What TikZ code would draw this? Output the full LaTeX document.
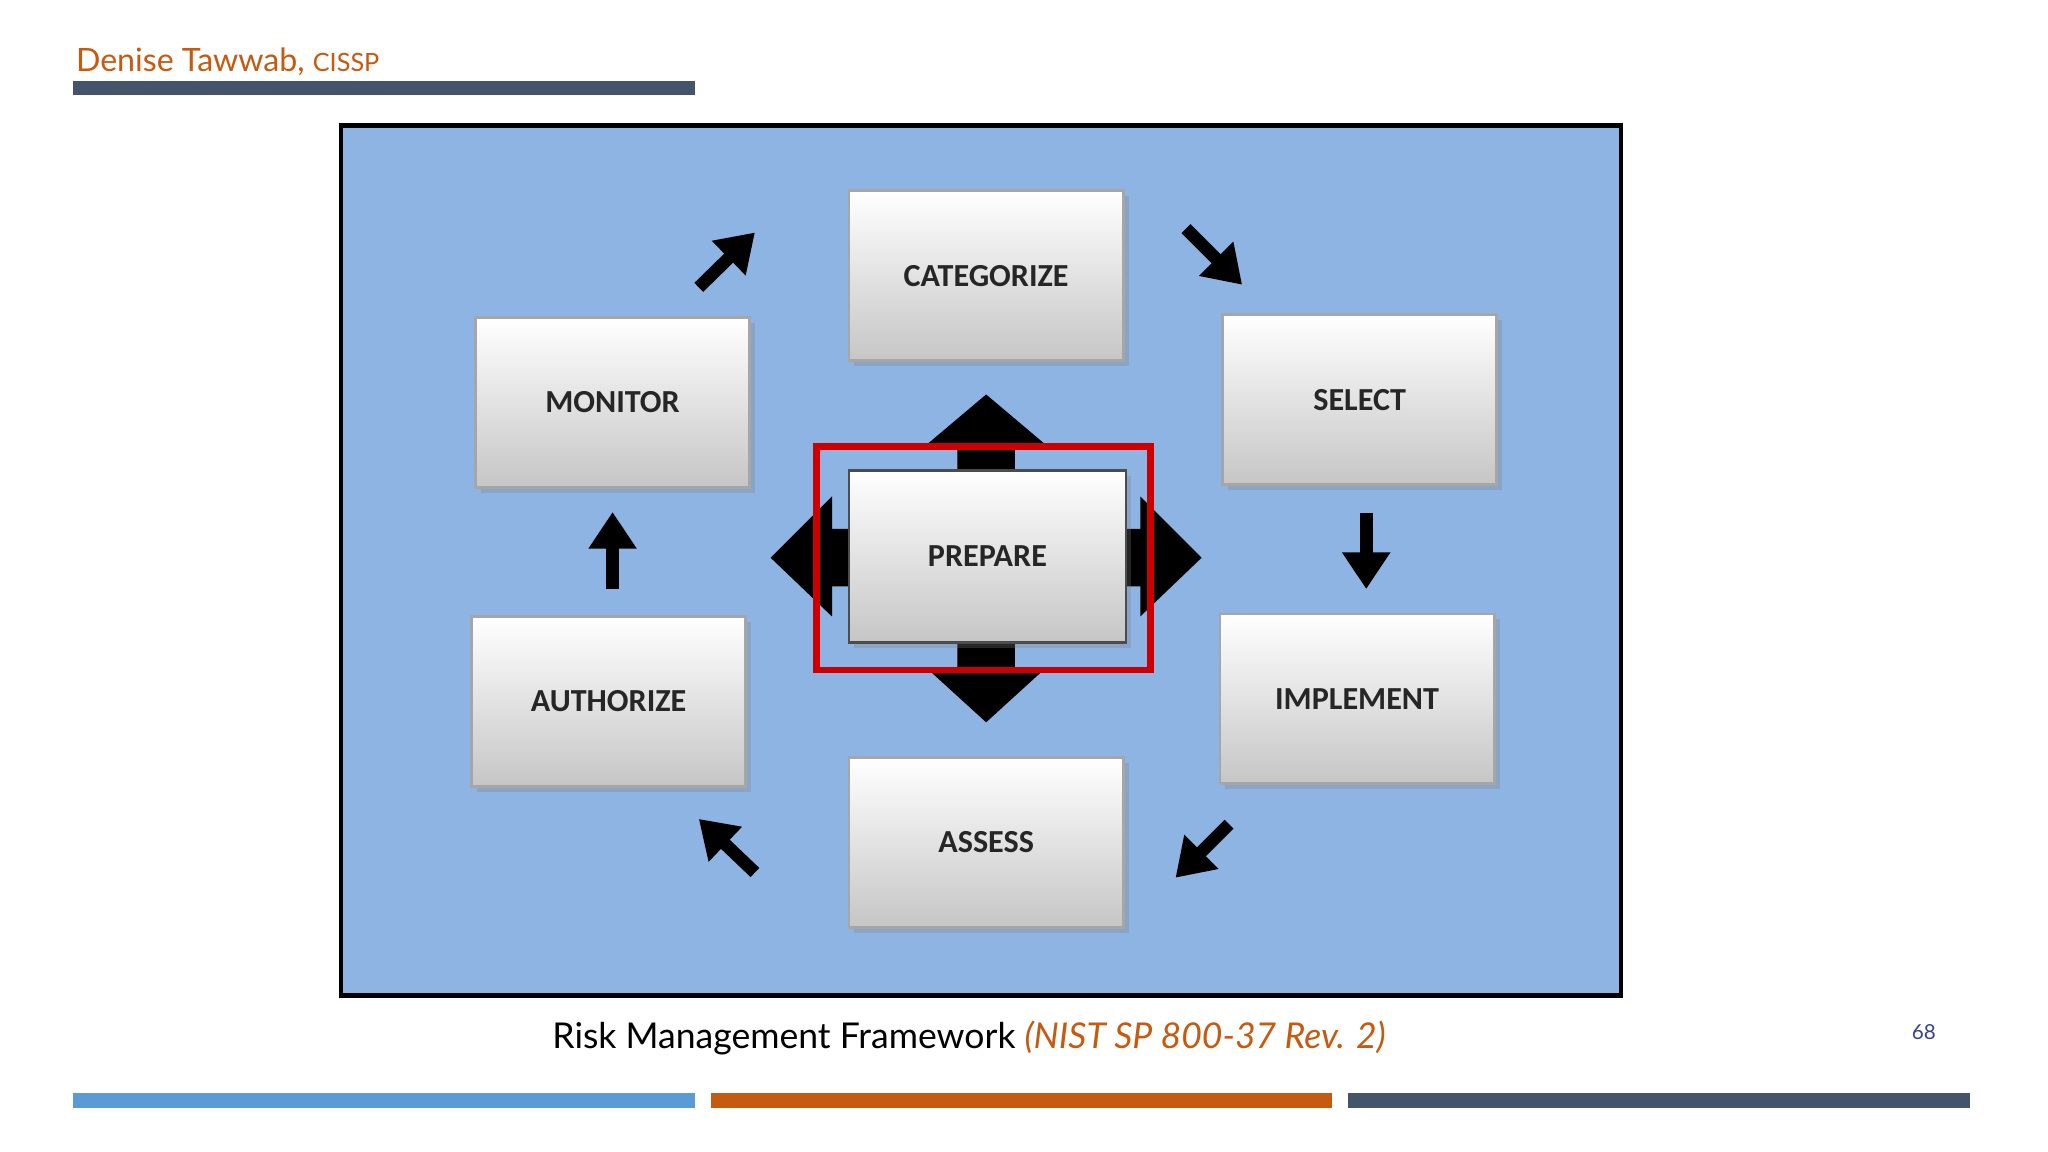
\documentclass[tikz,border=0pt]{standalone}
\usepackage{fontspec}
\setmainfont{Carlito}
\newfontfamily\gill{Lato}
\usetikzlibrary{arrows.meta,shadows}
\definecolor{panel}{HTML}{8DB4E2}
\definecolor{orng}{HTML}{C55A11}
\definecolor{dk}{HTML}{44546A}
\definecolor{lb}{HTML}{5B9BD5}
\tikzset{
 box/.style={draw=gray!70,line width=1.2pt,top color=white,bottom color=gray!45,minimum width=210*0.02cm,minimum height=130*0.02cm,font=\fontsize{14}{16}\selectfont\bfseries,text=black!85,drop shadow={opacity=0.3}},
 arr/.style={line width=5.5pt,-{Triangle[length=16pt,width=20pt]}}
}
\begin{document}
\begin{tikzpicture}[x=0.02cm,y=-0.02cm]
\useasboundingbox (0,0) rectangle (1568,882);
\fill[white] (0,0) rectangle (1568,882);
\node[anchor=west,text=orng,font=\gill\fontsize{14}{17}\selectfont] (title) at (52,47) {Denise Tawwab, {\fontsize{11}{14}\selectfont CISSP}};
\fill[dk] (56,62) rectangle (532,73);
\draw[fill=panel,line width=2pt] (261,96) rectangle (1241,762);
\fill (755,302) -- (800,340) -- (777,340) -- (777,360) -- (733,360) -- (733,340) -- (710,340) -- cycle;
\fill (755,553) -- (800,512) -- (777,512) -- (777,492) -- (733,492) -- (733,512) -- (710,512) -- cycle;
\fill (590,427) -- (637,380) -- (637,405) -- (650,405) -- (650,449) -- (637,449) -- (637,472) -- cycle;
\fill (920,427) -- (873,380) -- (873,405) -- (862,405) -- (862,449) -- (873,449) -- (873,472) -- cycle;
\node[box] (cat) at (755,211) {CATEGORIZE};
\node[box] (mon) at (469,308) {MONITOR};
\node[box] (sel) at (1041,306) {SELECT};
\node[box,minimum width=212*0.02cm,minimum height=132*0.02cm,draw=black!70] (prep) at (756,426) {PREPARE};
\node[box] (aut) at (466,537) {AUTHORIZE};
\node[box] (imp) at (1039,535) {IMPLEMENT};
\node[box] (ass) at (755,645) {ASSESS};
\draw[red!80!black,line width=3pt] (625,342) rectangle (881,513);
\coordinate (a1) at (535,220); \coordinate (b1) at (578,178);
\coordinate (a2) at (908,175); \coordinate (b2) at (951,218);
\coordinate (a3) at (1046,393); \coordinate (b3) at (1046,451);
\coordinate (a4) at (941,631); \coordinate (b4) at (900,672);
\coordinate (a5) at (578,668); \coordinate (b5) at (535,627);
\coordinate (a6) at (469,451); \coordinate (b6) at (469,392);
\foreach \i in {1,...,6} \draw[arr] (a\i) -- (b\i);
\node[font=\gill\fontsize{15.5}{20}\selectfont] (cap) at (742,795) {Risk Management Framework \textcolor{orng}{\itshape(NIST SP 800-37 Rev. 2)}};
\node[text=dk!80!blue,font=\gill\fontsize{9}{10}\selectfont] (pg) at (1473,790) {68};
\fill[lb] (56,837) rectangle (532,848);
\fill[orng] (544,837) rectangle (1020,848);
\fill[dk] (1032,837) rectangle (1508,848);
\end{tikzpicture}
\end{document}
